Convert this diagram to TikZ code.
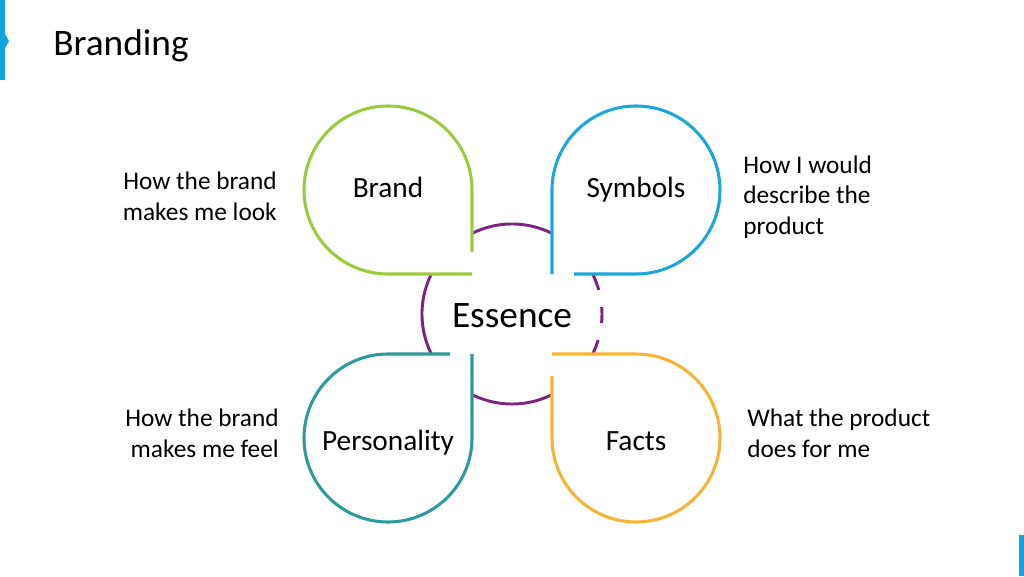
\documentclass[tikz,border=0pt]{standalone}
\usepackage{fontspec}
\setmainfont{Carlito}
\definecolor{accentblue}{HTML}{12A3DC}
\definecolor{brandgreen}{HTML}{9BCB3C}
\definecolor{symbolblue}{HTML}{1BA6DC}
\definecolor{factorange}{HTML}{F7B334}
\definecolor{personteal}{HTML}{2E9A9A}
\definecolor{essencepurple}{HTML}{7D2281}
\begin{document}
\begin{tikzpicture}[
    x=0.75pt, y=0.75pt,
    petal/.style={line width=2.3pt},
    ring/.style={draw=essencepurple, line width=2.2pt},
    petaltext/.style={font=\fontsize{22}{26}\selectfont, inner sep=0pt, anchor=base},
    note/.style={font=\fontsize{19}{23}\selectfont, inner sep=0pt}
  ]
    \useasboundingbox (0,0) rectangle (1024,576);
    % slide decoration
    \fill[accentblue] (0,496) rectangle (4.5,576);
    \fill[accentblue] (4.5,543) -- (9,535) -- (4.5,527) -- cycle;
    \fill[accentblue] (1019,0) rectangle (1024,41);
    \node[anchor=base west, inner sep=0pt, font=\fontsize{28}{32}\selectfont] (title) at (53,520) {Branding};

    \coordinate (c) at (512,262);
    % essence ring, dashed on the right
    \draw[ring] (c) ++(27:90) arc[start angle=27, end angle=333, radius=90];
    \draw[ring, dash pattern=on 12pt off 13pt] (c) ++(-27:90) arc[start angle=-27, end angle=27, radius=90];

    % four petals, turned about the centre
    \foreach \ang/\col in {0/brandgreen, -90/symbolblue, -180/factorange, -270/personteal} {
      \begin{scope}[shift={(c)}, rotate=\ang]
        \fill[white] (-40,40) -- (-40,124) arc[start angle=0, end angle=270, radius=84] -- cycle;
        \draw[petal, draw=\col] (-40,62) -- (-40,124) arc[start angle=0, end angle=270, radius=84] -- (-40,40);
      \end{scope}
    }

    \node[font=\fontsize{28}{32}\selectfont, inner sep=0pt, anchor=base] (essence) at (512,249) {Essence};
    \node[petaltext] (brand) at (388,379) {Brand};
    \node[petaltext] (symbols) at (636,379) {Symbols};
    \node[petaltext] (personality) at (388,126) {Personality};
    \node[petaltext] (facts) at (636,126) {Facts};

    \node[note, anchor=east, align=right] (look) at (277,380) {How the brand\\makes me look};
    \node[note, anchor=west, align=left] (describe) at (743,379) {How I would\\describe the\\product};
    \node[note, anchor=east, align=right] (feel) at (279,143) {How the brand\\makes me feel};
    \node[note, anchor=west, align=left] (does) at (747,143) {What the product\\does for me};
  \end{tikzpicture}
\end{document}
